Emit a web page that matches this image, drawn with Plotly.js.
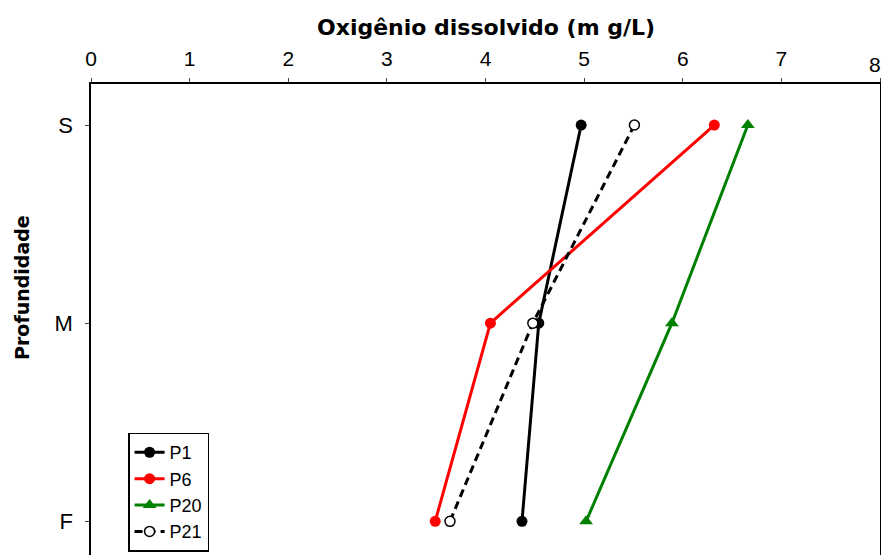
<!DOCTYPE html>
<html><head><meta charset="utf-8">
<script src="https://cdn.plot.ly/plotly-3.0.1.min.js"></script>
<style>body{margin:0;background:#fff}</style>
</head><body><div id="chart" style="width:881px;height:555px"></div>
<script>
const depthLabels = ["S", "M", "F"];
const depthPos = [0, 1, 2];
const P1 = [4.97, 4.54, 4.37];
const P6 = [6.32, 4.05, 3.49];
const P20 = [6.66, 5.89, 5.02];
const P21 = [5.51, 4.48, 3.64];

const mk = (name, x, color, symbol, dash, size) => ({
  x: x, y: depthPos, name: name, type: 'scatter', mode: 'lines+markers',
  line: {color: color, width: 3, dash: dash},
  marker: {color: symbol === 'circle-open' ? '#ffffff' : color, symbol: symbol === 'circle-open' ? 'circle' : symbol, size: size,
           line: {color: color, width: symbol === 'circle-open' ? 1.5 : 0}}
});

const data = [
  mk('P1', P1, '#000000', 'circle', 'solid', 11),
  mk('P6', P6, '#ff0000', 'circle', 'solid', 11),
  mk('P20', P20, '#008000', 'triangle-up', 'solid', 12),
  mk('P21', P21, '#000000', 'circle-open', '8px,5px', 10)
];

const layout = {
  width: 881, height: 555,
  margin: {l: 91, r: 1, t: 84, b: 0},
  paper_bgcolor: '#fff', plot_bgcolor: '#fff',
  font: {family: 'Liberation Sans, Arial, sans-serif', color: '#000'},
  showlegend: true,
  legend: {x: 0.047, y: 0.260, xanchor: 'left', yanchor: 'top', bordercolor: '#000', borderwidth: 1.5,
           font: {size: 18, color: '#000'}, bgcolor: '#fff', tracegroupgap: 0, itemwidth: 30},
  xaxis: {side: 'top', range: [0, 8], dtick: 1, tick0: 0, ticks: 'outside', ticklen: 4, tickwidth: 1,
          showline: true, linewidth: 1.5, linecolor: '#000', showgrid: false, zeroline: false,
          tickfont: {size: 21}, ticklabelstandoff: 4},
  yaxis: {range: [2.17, -0.207], tickvals: depthPos, ticktext: depthLabels, ticks: 'outside', ticklen: 4,
          showline: true, mirror: true, linewidth: 1.5, linecolor: '#000', showgrid: false, zeroline: false,
          tickfont: {size: 22}, ticklabelstandoff: 8},
  annotations: [
    {text: '<b>Oxigênio dissolvido (m g/L)</b>', xref: 'paper', yref: 'paper', x: 0.5, y: 1, yshift: 57,
     xanchor: 'center', yanchor: 'middle', showarrow: false, font: {family: 'DejaVu Sans, sans-serif', size: 22}},
    {text: '<b>Profundidade</b>', xref: 'paper', yref: 'paper', x: 0, xshift: -69, y: 0.567,
     xanchor: 'center', yanchor: 'middle', textangle: -90, showarrow: false, font: {family: 'DejaVu Sans, sans-serif', size: 19}},
    {text: '8', xref: 'x', yref: 'paper', x: 8, y: 1, yshift: 20, xshift: -5, xanchor: 'center', yanchor: 'middle',
     showarrow: false, font: {size: 21}}
  ]
};
Plotly.newPlot('chart', data, layout, {displayModeBar: false});
</script></body></html>
